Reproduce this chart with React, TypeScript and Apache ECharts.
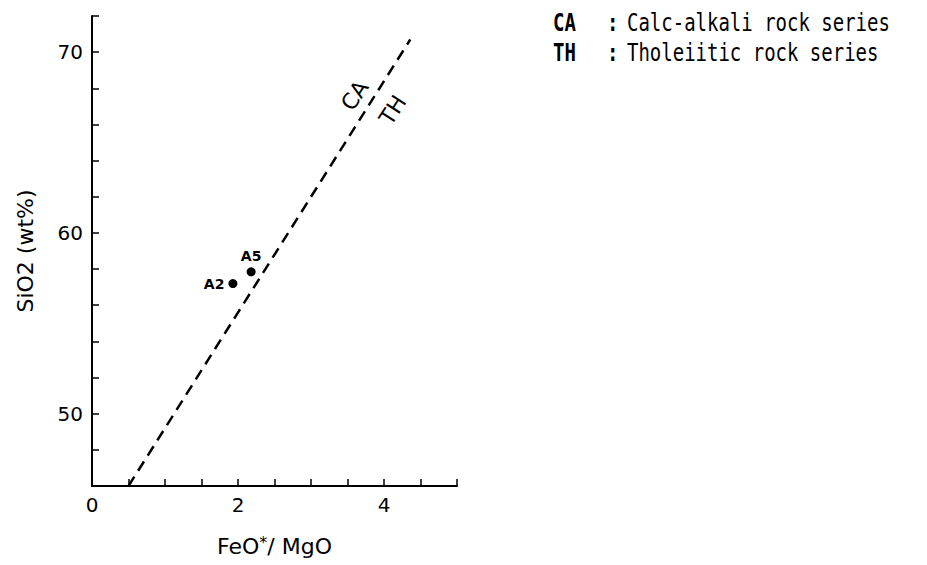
import React, { useEffect, useRef } from "react";
import * as echarts from "echarts";

// Axis ranges / ticks
const xRange = [0, 5];
const xTickStep = 0.5;
const xLabelValues = [0, 2, 4];
const yRange = [46, 72];
const yTickStep = 2;
const yLabelValues = [50, 60, 70];

// CA / TH boundary (Miyashiro line), end points
const boundaryLine: [number, number][] = [
  [0.5, 46.0],
  [4.36, 70.7],
];

// Samples
const sampleNames = ["A2", "A5"];
const sampleX = [1.93, 2.18];
const sampleY = [57.2, 57.85];
const sampleLabelPos = ["left", "top"];

// Field labels along the boundary
const fieldNames = ["CA", "TH"];
const fieldX = [3.6, 4.12];
const fieldY = [67.6, 66.8];

// Legend lines
const legendCodes = ["CA", "TH"];
const legendTexts = ["Calc-alkali rock series", "Tholeiitic rock series"];

const FONT = "DejaVu Sans";
const MONO = "DejaVu Sans Mono";

export default function App() {
  const ref = useRef<HTMLDivElement>(null);
  useEffect(() => {
    document.body.style.margin = "0";
    const chart = echarts.init(ref.current!, null, { renderer: "svg" });
    const legendGraphics: any[] = [];
    legendCodes.forEach((c, i) => {
      const y = 23 + i * 30;
      legendGraphics.push(
        {
          type: "text",
          x: 553,
          y,
          scaleY: 1.3,
          style: { text: c, font: `bold 19px "${MONO}"`, fill: "#000", textVerticalAlign: "middle" },
        },
        {
          type: "text",
          x: 607,
          y,
          scaleY: 1.3,
          style: { text: ":", font: `bold 19px "${MONO}"`, fill: "#000", textVerticalAlign: "middle" },
        },
        {
          type: "text",
          x: 627,
          y,
          scaleY: 1.3,
          style: { text: legendTexts[i], font: `19px "${MONO}"`, fill: "#000", textVerticalAlign: "middle" },
        }
      );
    });

    chart.setOption({
      animation: false,
      backgroundColor: "#fff",
      grid: { left: 92, right: 470, top: 16, bottom: 79, containLabel: false },
      xAxis: {
        type: "value",
        min: xRange[0],
        max: xRange[1],
        interval: xTickStep,
        name: "{a|FeO}{s|*}{a|/ MgO}",
        nameLocation: "middle",
        nameGap: 48,
        nameTextStyle: {
          rich: {
            a: { fontFamily: FONT, fontSize: 22, color: "#000" },
            s: { fontFamily: FONT, fontSize: 16, color: "#000", verticalAlign: "top", padding: [0, 0, 8, 0] },
          },
        },
        axisLine: { show: true, lineStyle: { color: "#000", width: 2 } },
        axisTick: { show: true, inside: true, length: 7, lineStyle: { color: "#000", width: 1.5 } },
        axisLabel: {
          color: "#000",
          fontFamily: FONT,
          fontSize: 20,
          margin: 9,
          formatter: (v: number) => (xLabelValues.includes(v) ? String(v) : ""),
        },
        splitLine: { show: false },
      },
      yAxis: {
        type: "value",
        min: yRange[0],
        max: yRange[1],
        interval: yTickStep,
        name: "SiO2 (wt%)",
        nameLocation: "middle",
        nameRotate: 90,
        nameGap: 56,
        nameTextStyle: { fontFamily: FONT, fontSize: 22, color: "#000" },
        axisLine: { show: true, lineStyle: { color: "#000", width: 2 } },
        axisTick: { show: true, inside: true, length: 7, lineStyle: { color: "#000", width: 1.5 } },
        axisLabel: {
          color: "#000",
          fontFamily: FONT,
          fontSize: 20,
          margin: 9,
          formatter: (v: number) => (yLabelValues.includes(v) ? String(v) : ""),
        },
        splitLine: { show: false },
      },
      series: [
        {
          type: "line",
          data: boundaryLine,
          symbol: "none",
          lineStyle: { color: "#000", width: 2.5, type: [11, 7] },
          silent: true,
        },
        {
          type: "scatter",
          data: sampleNames.map((n, i) => ({
            name: n,
            value: [sampleX[i], sampleY[i]],
            label: { position: sampleLabelPos[i] as any },
          })),
          symbol: "circle",
          symbolSize: 9,
          itemStyle: { color: "#000", opacity: 1 },
          label: {
            show: true,
            formatter: "{b}",
            fontFamily: FONT,
            fontSize: 14,
            fontWeight: "bold",
            color: "#000",
            distance: 4,
          },
          emphasis: { disabled: true },
        },
        {
          type: "scatter",
          data: fieldNames.map((n, i) => ({ name: n, value: [fieldX[i], fieldY[i]] })),
          symbol: "circle",
          symbolSize: 1,
          itemStyle: { color: "#fff" },
          label: {
            show: true,
            position: "inside",
            formatter: "{b}",
            rotate: 57,
            fontFamily: FONT,
            fontSize: 22,
            color: "#000",
            opacity: 1,
            textBorderWidth: 0,
          },
          emphasis: { disabled: true },
          silent: true,
        },
      ],
      graphic: legendGraphics,
    });
    return () => chart.dispose();
  }, []);
  return <div ref={ref} style={{ position: "fixed", left: 0, top: 0, width: 927, height: 565 }} />;
}
